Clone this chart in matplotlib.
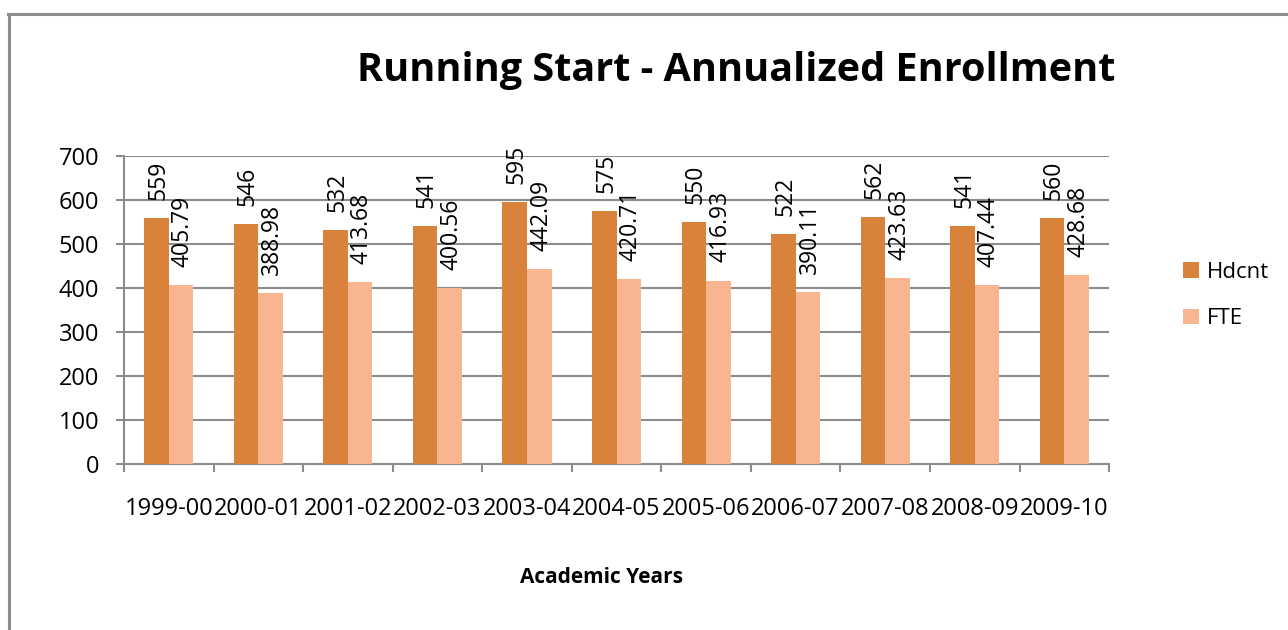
import matplotlib.pyplot as plt
import numpy as np
from matplotlib.lines import Line2D

plt.rcParams['font.family'] = ['Open Sans', 'DejaVu Sans']

# Data
years = ['1999-00', '2000-01', '2001-02', '2002-03', '2003-04', '2004-05',
         '2005-06', '2006-07', '2007-08', '2008-09', '2009-10']
hdcnt = [559, 546, 532, 541, 595, 575, 550, 522, 562, 541, 560]
fte = [405.79, 388.98, 413.68, 400.56, 442.09, 420.71, 416.93, 390.11, 423.63, 407.44, 428.68]

c_hd = '#D9823B'
c_fte = '#F9B590'
grey = '#8C8C8C'

fig = plt.figure(figsize=(12.88, 6.3), dpi=100)
ax = fig.add_axes([0.0963, 0.2635, 0.7648, 0.4889])

x = np.arange(len(years))
w = 0.274
b1 = ax.bar(x - w / 2, hdcnt, w, color=c_hd, label='Hdcnt', zorder=3)
b2 = ax.bar(x + w / 2, fte, w, color=c_fte, label='FTE', zorder=3)

for bars, vals in ((b1, hdcnt), (b2, fte)):
    for r, v in zip(bars, vals):
        ax.annotate(f'{v:g}', (r.get_x() + r.get_width() / 2 + 0.02, v),
                    xytext=(0, 13), textcoords='offset points',
                    rotation=90, ha='center', va='bottom', fontsize=16.5,
                    zorder=4)

ax.set_xlim(-0.5, len(years) - 0.5)
ax.set_ylim(0, 700)
ax.set_yticks(range(0, 701, 100))
ax.yaxis.grid(True, color=grey, linewidth=1.5, zorder=0)
ax.set_axisbelow(True)

ax.set_xticks(x)
ax.set_xticklabels(years, fontsize=17)
ax.set_xticks(np.arange(-0.5, len(years)), minor=True)
ax.tick_params(axis='x', which='major', length=0, pad=24)
ax.tick_params(axis='x', which='minor', length=6, width=1.5, color=grey)
ax.tick_params(axis='y', length=6, width=1.5, color=grey, labelsize=17, pad=12)

for s in ('top', 'right'):
    ax.spines[s].set_visible(False)
for s in ('left', 'bottom'):
    ax.spines[s].set_color(grey)
    ax.spines[s].set_linewidth(1.5)

ax.set_xlabel('Academic Years', fontsize=15, fontweight='bold')
ax.xaxis.set_label_coords(0.485, -0.335)

fig.text(0.5715, 0.888, 'Running Start - Annualized Enrollment',
         ha='center', va='center', fontsize=28.5, fontweight='bold')

fig.legend(handles=[b1, b2], loc='center left', bbox_to_anchor=(0.903, 0.531),
           frameon=False, fontsize=16, handlelength=0.7, handleheight=0.7,
           handletextpad=0.35, labelspacing=1.15)

# chart border (top and left visible)
fig.add_artist(Line2D([8 / 1288, 1.0], [1 - 13.5 / 630] * 2, color=grey, linewidth=2.2))
fig.add_artist(Line2D([9 / 1288] * 2, [0, 1 - 13.5 / 630], color=grey, linewidth=2.2))

fig.savefig('out.png', dpi=100)
